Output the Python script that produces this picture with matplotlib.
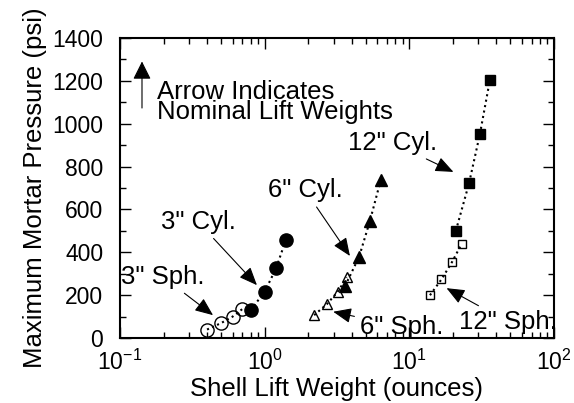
import numpy as np
import matplotlib
matplotlib.use('Agg')
import matplotlib.pyplot as plt
from matplotlib.ticker import MultipleLocator, LogLocator

# lift weight (oz) vs peak mortar pressure (psi)
sph3_w = [0.40, 0.50, 0.60, 0.70]
sph3_p = [40, 70, 100, 135]
cyl3_w = [0.80, 1.0, 1.2, 1.4]
cyl3_p = [130, 216, 325, 457]

sph6_w = [2.2, 2.7, 3.2, 3.7]
sph6_p = [107, 159, 216, 283]
cyl6_w = [3.6, 4.5, 5.35, 6.35]
cyl6_p = [243, 379, 547, 737]

sph12_w = [13.9, 16.7, 19.8, 23.0]
sph12_p = [200, 274, 356, 439]
cyl12_w = [21.0, 25.9, 30.8, 36.1]
cyl12_p = [501, 722, 952, 1204]

# label, text position, arrow tip (data coords)
notes = [('3" Sph.',  (0.198, 286), (0.440, 107)),
         ('3" Cyl.',  (0.346, 543), (0.885, 247)),
         ('6" Sph.',  (8.85, 53),   (2.98, 123)),
         ('6" Cyl.',  (1.90, 691),  (3.89, 383)),
         ('12" Sph.', (48.0, 76),   (18.1, 233)),
         ('12" Cyl.', (7.71, 910),  (20.2, 775))]

plt.rcParams['font.family'] = ['Liberation Sans', 'DejaVu Sans']
plt.rcParams['font.size'] = 18.5
plt.rcParams['mathtext.fontset'] = 'custom'
plt.rcParams['mathtext.rm'] = 'Liberation Sans'

fig = plt.figure(figsize=(5.74, 4.03), dpi=100)
ax = fig.add_axes([0.209, 0.161, 0.756, 0.745])

line_kw = dict(color='k', linestyle=':', linewidth=1.5)
ax.plot(sph3_w, sph3_p, marker='o', ms=9.5, mfc='none', mec='k', mew=1.0, **line_kw)
ax.plot(cyl3_w, cyl3_p, marker='o', ms=9.5, mfc='k', mec='k', **line_kw)
ax.plot(sph6_w, sph6_p, marker='^', ms=7, mfc='none', mec='k', mew=1.0, **line_kw)
ax.plot(cyl6_w, cyl6_p, marker='^', ms=8, mfc='k', mec='k', **line_kw)
ax.plot(sph12_w, sph12_p, marker='s', ms=5.5, mfc='none', mec='k', mew=1.0, **line_kw)
ax.plot(cyl12_w, cyl12_p, marker='s', ms=7, mfc='k', mec='k', **line_kw)

arrow = dict(arrowstyle='-|>,head_length=0.6,head_width=0.25', color='k',
             lw=0.8, shrinkA=2, shrinkB=0)
for label, txt, tip in notes:
    ax.annotate(label, xy=tip, xytext=txt, ha='center', va='center',
                arrowprops=arrow)

# key for the arrows
ax.annotate('', xy=(0.142, 1290), xytext=(0.142, 1073),
            arrowprops=dict(arrowstyle='-|>,head_length=0.6,head_width=0.3',
                            color='k', lw=0.8, shrinkA=0, shrinkB=0))
ax.text(0.18, 1100, 'Arrow Indicates\nNominal Lift Weights', ha='left',
        va='center', linespacing=0.8)

ax.set_xscale('log')
ax.set_xlim(0.1, 100)
ax.set_ylim(0, 1400)
ax.yaxis.set_major_locator(MultipleLocator(200))
ax.yaxis.set_minor_locator(MultipleLocator(100))
ax.xaxis.set_minor_locator(LogLocator(base=10, subs=np.arange(2, 10)))

ax.set_xlabel('Shell Lift Weight (ounces)', labelpad=2)
ax.set_ylabel('Maximum Mortar Pressure (psi)', labelpad=4)

for s in ax.spines.values():
    s.set_linewidth(1.5)
ax.tick_params(which='both', direction='in', top=True, right=True, width=1.0,
               labelsize=16.5)
ax.tick_params(which='major', length=8)
ax.tick_params(axis='y', which='major', pad=12)
ax.tick_params(axis='x', which='major', pad=8)
ax.tick_params(which='minor', length=4.5)

fig.savefig('out.png', dpi=100)
